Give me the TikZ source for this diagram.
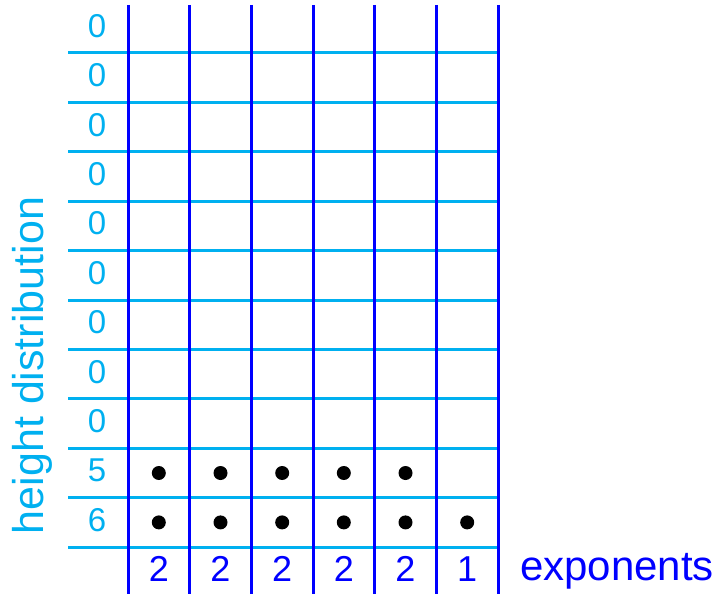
\documentclass[tikz,border=0pt]{standalone}
\usepackage{fontspec,tikz}
\setmainfont{Liberation Sans}
\definecolor{rowcyan}{RGB}{0,176,240}
\definecolor{colblue}{RGB}{0,0,255}

\begin{document}
\begin{tikzpicture}[x=1pt,y=-1pt,
  hline/.style={draw=rowcyan,line width=3pt},
  vline/.style={draw=colblue,line width=3pt},
  rowlab/.style={anchor=base,inner sep=0pt,text=rowcyan,font=\fontsize{33.0}{39.6}\selectfont},
  collab/.style={anchor=base,inner sep=0pt,text=colblue,font=\fontsize{36.0}{43.2}\selectfont},
  dot/.style={circle,fill=black,inner sep=0pt,minimum size=14pt}]
\path[use as bounding box] (0,0) rectangle (720.0,594.0);
% rows
\draw[hline] (68,53.0) -- (500,53.0);
\draw[hline] (68,102.4) -- (500,102.4);
\draw[hline] (68,151.8) -- (500,151.8);
\draw[hline] (68,201.2) -- (500,201.2);
\draw[hline] (68,250.6) -- (500,250.6);
\draw[hline] (68,300.0) -- (500,300.0);
\draw[hline] (68,349.4) -- (500,349.4);
\draw[hline] (68,398.8) -- (500,398.8);
\draw[hline] (68,448.2) -- (500,448.2);
\draw[hline] (68,497.6) -- (500,497.6);
\draw[hline] (68,547.0) -- (500,547.0);
% columns
\draw[vline] (128.0,5) -- (128.0,594);
\draw[vline] (189.7,5) -- (189.7,594);
\draw[vline] (251.3,5) -- (251.3,594);
\draw[vline] (313.0,5) -- (313.0,594);
\draw[vline] (374.7,5) -- (374.7,594);
\draw[vline] (436.3,5) -- (436.3,594);
\draw[vline] (498.0,5) -- (498.0,594);
% height distribution
\node[rowlab] (h0) at (97,37.3) {0};
\node[rowlab] (h1) at (97,86.7) {0};
\node[rowlab] (h2) at (97,136.1) {0};
\node[rowlab] (h3) at (97,185.5) {0};
\node[rowlab] (h4) at (97,234.9) {0};
\node[rowlab] (h5) at (97,284.3) {0};
\node[rowlab] (h6) at (97,333.7) {0};
\node[rowlab] (h7) at (97,383.1) {0};
\node[rowlab] (h8) at (97,432.5) {0};
\node[rowlab] (h9) at (97,481.9) {5};
\node[rowlab] (h10) at (97,531.3) {6};
\node[anchor=base,inner sep=0pt,rotate=90,text=rowcyan,font=\fontsize{43.0}{51.6}\selectfont] (ylab) at (43,365.5) {height distribution};
% exponents
\node[collab] (e1) at (158.8,581) {2};
\node[collab] (e2) at (220.5,581) {2};
\node[collab] (e3) at (282.2,581) {2};
\node[collab] (e4) at (343.8,581) {2};
\node[collab] (e5) at (405.5,581) {2};
\node[collab] (e6) at (467.2,581) {1};
\node[anchor=base west,inner sep=0pt,text=colblue,font=\fontsize{42.0}{50.4}\selectfont] (xlab) at (520,580) {exponents};
% dots
\node[dot] (d91) at (158.8,473.0) {};
\node[dot] (d92) at (220.5,473.0) {};
\node[dot] (d93) at (282.2,473.0) {};
\node[dot] (d94) at (343.8,473.0) {};
\node[dot] (d95) at (405.5,473.0) {};
\node[dot] (d101) at (158.8,522.4) {};
\node[dot] (d102) at (220.5,522.4) {};
\node[dot] (d103) at (282.2,522.4) {};
\node[dot] (d104) at (343.8,522.4) {};
\node[dot] (d105) at (405.5,522.4) {};
\node[dot] (d106) at (467.2,522.4) {};
\end{tikzpicture}
\end{document}
